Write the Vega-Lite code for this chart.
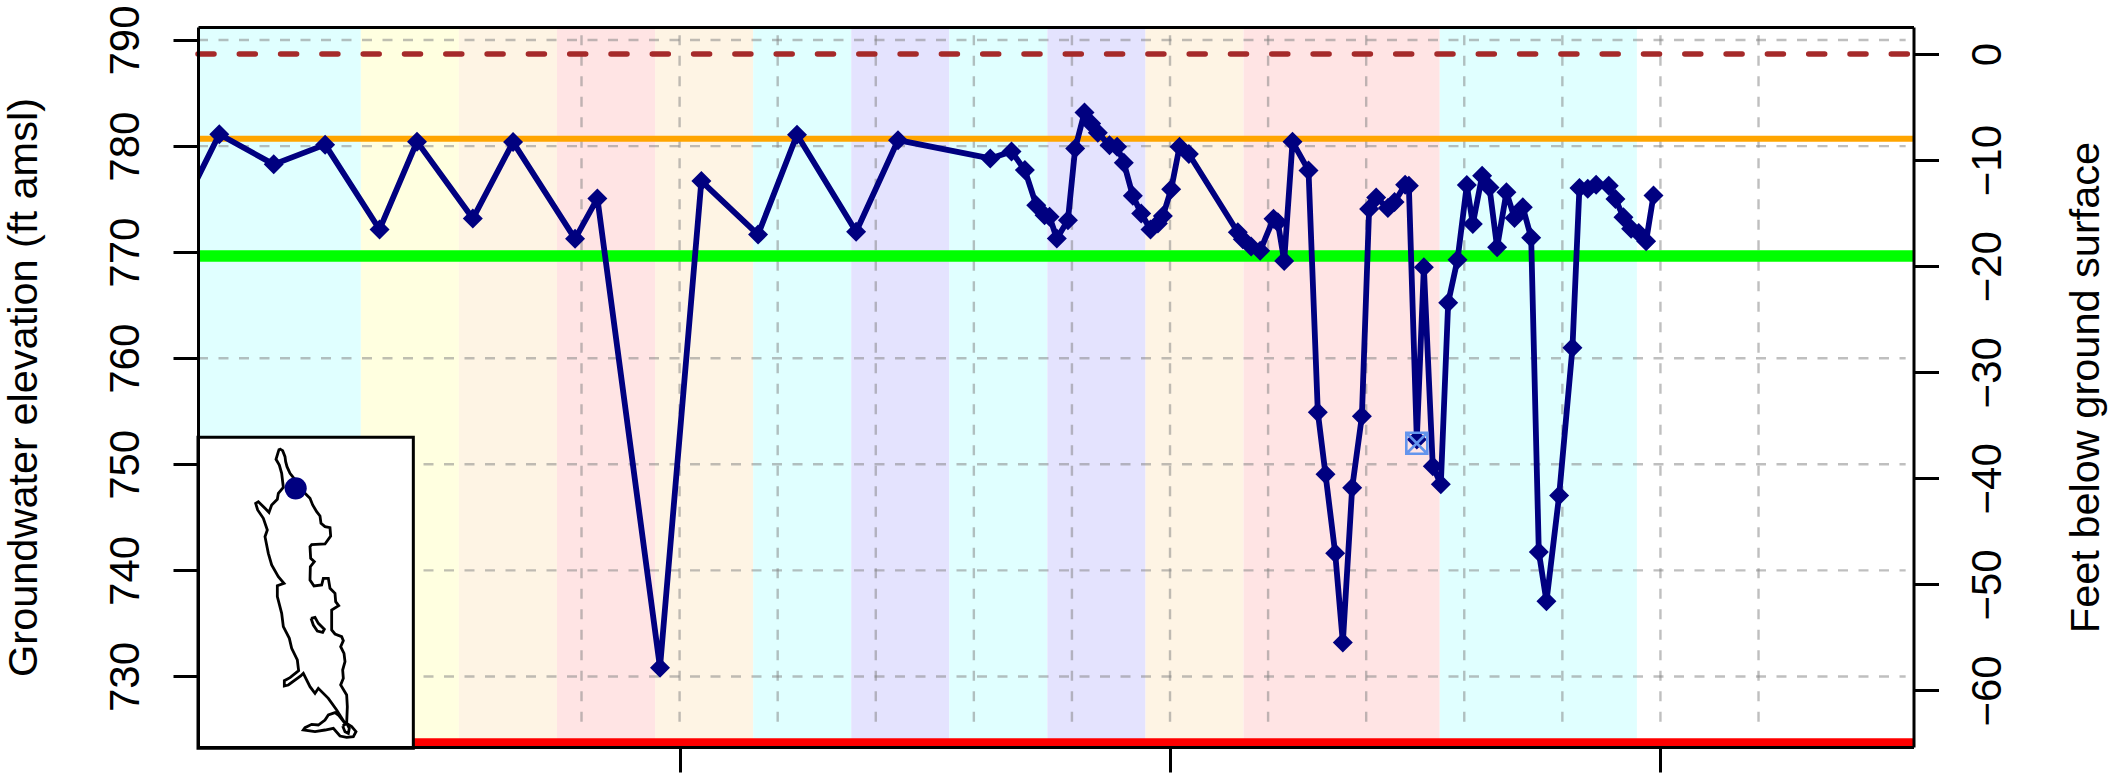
{
"$schema":"https://vega.github.io/schema/vega-lite/v6.json",
"width":1715.5,"height":720,
"autosize":{"type":"none"},
"padding":{"left":198,"top":27,"right":198.5,"bottom":28},
"background":"white",
"config":{"view":{"stroke":null},"font":"Liberation Sans","axis":{"labelFont":"Liberation Sans","titleFont":"Liberation Sans","grid":false}},
"datasets":{
"bands":[
{"start":1964.75,"end":1966.75,"kind":"wet"},
{"start":1966.75,"end":1967.75,"kind":"yellow"},
{"start":1967.75,"end":1968.75,"kind":"lace"},
{"start":1968.75,"end":1969.75,"kind":"pink"},
{"start":1969.75,"end":1970.75,"kind":"lace"},
{"start":1970.75,"end":1971.75,"kind":"wet"},
{"start":1971.75,"end":1972.75,"kind":"lav"},
{"start":1972.75,"end":1973.75,"kind":"wet"},
{"start":1973.75,"end":1974.75,"kind":"lav"},
{"start":1974.75,"end":1975.75,"kind":"lace"},
{"start":1975.75,"end":1977.75,"kind":"pink"},
{"start":1977.75,"end":1979.76,"kind":"wet"}],
"gridx":[{"year":1969},{"year":1970},{"year":1971},{"year":1972},{"year":1973},{"year":1974},{"year":1975},{"year":1976},{"year":1977},{"year":1978},{"year":1979},{"year":1980},{"year":1981}],
"gridy":[{"elev":730},{"elev":740},{"elev":750},{"elev":760},{"elev":770},{"elev":780},{"elev":790}],
"levels":[{"elev":780.7,"name":"orange"},{"elev":769.65,"name":"green"},{"elev":723.7,"name":"red"}],
"series":[
{"year":1965.0,"elev":775.4},{"year":1965.307,"elev":781.12},{"year":1965.862,"elev":778.28},{"year":1966.386,"elev":780.14},{"year":1966.941,"elev":772.14},{"year":1967.323,"elev":780.42},{"year":1967.892,"elev":773.17},{"year":1968.302,"elev":780.38},{"year":1968.934,"elev":771.26},{"year":1969.162,"elev":775.07},{"year":1969.8,"elev":730.83},{"year":1970.222,"elev":776.7},{"year":1970.8,"elev":771.66},{"year":1971.197,"elev":781.07},{"year":1971.8,"elev":771.92},{"year":1972.227,"elev":780.56},
{"year":1973.167,"elev":778.84},{"year":1973.384,"elev":779.5},{"year":1973.52,"elev":777.74},{"year":1973.636,"elev":774.43},{"year":1973.721,"elev":773.49},{"year":1973.772,"elev":773.33},{"year":1973.846,"elev":771.29},{"year":1973.959,"elev":773.02},{"year":1974.033,"elev":779.78},{"year":1974.128,"elev":783.18},{"year":1974.196,"elev":782.14},{"year":1974.264,"elev":781.26},{"year":1974.383,"elev":780.09},{"year":1974.461,"elev":779.94},{"year":1974.529,"elev":778.43},{"year":1974.621,"elev":775.31},{"year":1974.706,"elev":773.65},{"year":1974.801,"elev":772.14},{"year":1974.876,"elev":772.7},{"year":1974.927,"elev":773.4},{"year":1975.012,"elev":775.94},{"year":1975.097,"elev":779.94},{"year":1975.192,"elev":779.25},
{"year":1975.691,"elev":771.88},{"year":1975.742,"elev":771.21},{"year":1975.827,"elev":770.53},{"year":1975.919,"elev":770.13},{"year":1976.055,"elev":773.16},{"year":1976.099,"elev":772.82},{"year":1976.164,"elev":769.18},{"year":1976.249,"elev":780.4},{"year":1976.412,"elev":777.71},{"year":1976.507,"elev":754.9},{"year":1976.585,"elev":749.07},{"year":1976.684,"elev":741.62},{"year":1976.762,"elev":733.2},{"year":1976.857,"elev":747.79},{"year":1976.956,"elev":754.53},{"year":1977.03,"elev":774.07},{"year":1977.102,"elev":775.15},{"year":1977.221,"elev":774.17},{"year":1977.289,"elev":774.74},{"year":1977.397,"elev":776.36},{"year":1977.435,"elev":776.26},{"year":1977.516,"elev":752.34},{"year":1977.588,"elev":768.58},{"year":1977.679,"elev":749.81},{"year":1977.761,"elev":748.13},{"year":1977.836,"elev":765.24},{"year":1977.931,"elev":769.29},{"year":1978.026,"elev":776.33},{"year":1978.087,"elev":772.65},{"year":1978.182,"elev":777.2},{"year":1978.257,"elev":776.09},{"year":1978.335,"elev":770.46},{"year":1978.43,"elev":775.65},{"year":1978.512,"elev":773.23},{"year":1978.597,"elev":774.24},{"year":1978.682,"elev":771.37},{"year":1978.76,"elev":741.73},{"year":1978.838,"elev":737.08},{"year":1978.967,"elev":747.05},{"year":1979.103,"elev":761.0},{"year":1979.174,"elev":776.06},{"year":1979.259,"elev":775.99},{"year":1979.344,"elev":776.36},{"year":1979.473,"elev":776.26},{"year":1979.541,"elev":775.01},{"year":1979.623,"elev":773.3},{"year":1979.701,"elev":772.22},{"year":1979.779,"elev":771.81},{"year":1979.854,"elev":771.04},{"year":1979.929,"elev":775.35}],
"flagged":[{"year":1977.516,"elev":751.99}],
"surface":[{"depth":0}],
"frame":[{"x0":24,"x1":670,"y0":22,"y1":955}],
"site":[{"mx":317,"my":175}],
"outline":[
{"part":"shore","seq":1,"mx":268,"my":56},{"part":"shore","seq":2,"mx":278,"my":62},{"part":"shore","seq":3,"mx":285,"my":80},{"part":"shore","seq":4,"mx":287,"my":95},{"part":"shore","seq":5,"mx":291,"my":110},{"part":"shore","seq":6,"mx":300,"my":130},{"part":"shore","seq":7,"mx":312,"my":145},{"part":"shore","seq":8,"mx":345,"my":190},{"part":"shore","seq":9,"mx":360,"my":205},{"part":"shore","seq":10,"mx":368,"my":225},{"part":"shore","seq":11,"mx":380,"my":245},{"part":"shore","seq":12,"mx":390,"my":258},{"part":"shore","seq":13,"mx":393,"my":280},{"part":"shore","seq":14,"mx":405,"my":290},{"part":"shore","seq":15,"mx":420,"my":293},{"part":"shore","seq":16,"mx":422,"my":318},{"part":"shore","seq":17,"mx":405,"my":342},{"part":"shore","seq":18,"mx":365,"my":344},{"part":"shore","seq":19,"mx":360,"my":350},{"part":"shore","seq":20,"mx":362,"my":385},{"part":"shore","seq":21,"mx":373,"my":395},{"part":"shore","seq":22,"mx":361,"my":410},{"part":"shore","seq":23,"mx":360,"my":450},{"part":"shore","seq":24,"mx":372,"my":468},{"part":"shore","seq":25,"mx":395,"my":465},{"part":"shore","seq":26,"mx":400,"my":445},{"part":"shore","seq":27,"mx":415,"my":445},{"part":"shore","seq":28,"mx":420,"my":475},{"part":"shore","seq":29,"mx":435,"my":490},{"part":"shore","seq":30,"mx":437,"my":515},{"part":"shore","seq":31,"mx":446,"my":527},{"part":"shore","seq":32,"mx":425,"my":540},{"part":"shore","seq":33,"mx":425,"my":600},{"part":"shore","seq":34,"mx":435,"my":612},{"part":"shore","seq":35,"mx":455,"my":620},{"part":"shore","seq":36,"mx":460,"my":632},{"part":"shore","seq":37,"mx":452,"my":650},{"part":"shore","seq":38,"mx":462,"my":670},{"part":"shore","seq":39,"mx":465,"my":695},{"part":"shore","seq":40,"mx":458,"my":720},{"part":"shore","seq":41,"mx":460,"my":745},{"part":"shore","seq":42,"mx":452,"my":765},{"part":"shore","seq":43,"mx":470,"my":795},{"part":"shore","seq":44,"mx":472,"my":830},{"part":"shore","seq":45,"mx":470,"my":880},{"part":"shore","seq":46,"mx":485,"my":890},{"part":"shore","seq":47,"mx":498,"my":905},{"part":"shore","seq":48,"mx":490,"my":920},{"part":"shore","seq":49,"mx":470,"my":922},{"part":"shore","seq":50,"mx":450,"my":918},{"part":"shore","seq":51,"mx":430,"my":895},{"part":"shore","seq":52,"mx":405,"my":900},{"part":"shore","seq":53,"mx":375,"my":905},{"part":"shore","seq":54,"mx":340,"my":900},{"part":"shore","seq":55,"mx":345,"my":893},{"part":"shore","seq":56,"mx":365,"my":883},{"part":"shore","seq":57,"mx":385,"my":885},{"part":"shore","seq":58,"mx":405,"my":870},{"part":"shore","seq":59,"mx":415,"my":855},{"part":"shore","seq":60,"mx":435,"my":848},{"part":"shore","seq":61,"mx":445,"my":855},{"part":"shore","seq":62,"mx":465,"my":880},{"part":"shore","seq":63,"mx":440,"my":840},{"part":"shore","seq":64,"mx":415,"my":805},{"part":"shore","seq":65,"mx":385,"my":775},{"part":"shore","seq":66,"mx":375,"my":790},{"part":"shore","seq":67,"mx":360,"my":770},{"part":"shore","seq":68,"mx":340,"my":730},{"part":"shore","seq":69,"mx":332,"my":738},{"part":"shore","seq":70,"mx":295,"my":765},{"part":"shore","seq":71,"mx":283,"my":768},{"part":"shore","seq":72,"mx":283,"my":752},{"part":"shore","seq":73,"mx":300,"my":743},{"part":"shore","seq":74,"mx":326,"my":722},{"part":"shore","seq":75,"mx":325,"my":715},{"part":"shore","seq":76,"mx":322,"my":690},{"part":"shore","seq":77,"mx":305,"my":655},{"part":"shore","seq":78,"mx":298,"my":625},{"part":"shore","seq":79,"mx":280,"my":590},{"part":"shore","seq":80,"mx":275,"my":550},{"part":"shore","seq":81,"mx":262,"my":500},{"part":"shore","seq":82,"mx":262,"my":467},{"part":"shore","seq":83,"mx":282,"my":460},{"part":"shore","seq":84,"mx":265,"my":440},{"part":"shore","seq":85,"mx":245,"my":405},{"part":"shore","seq":86,"mx":235,"my":370},{"part":"shore","seq":87,"mx":225,"my":320},{"part":"shore","seq":88,"mx":232,"my":300},{"part":"shore","seq":89,"mx":220,"my":265},{"part":"shore","seq":90,"mx":203,"my":240},{"part":"shore","seq":91,"mx":197,"my":220},{"part":"shore","seq":92,"mx":205,"my":215},{"part":"shore","seq":93,"mx":225,"my":235},{"part":"shore","seq":94,"mx":237,"my":247},{"part":"shore","seq":95,"mx":245,"my":225},{"part":"shore","seq":96,"mx":262,"my":208},{"part":"shore","seq":97,"mx":265,"my":190},{"part":"shore","seq":98,"mx":280,"my":172},{"part":"shore","seq":99,"mx":275,"my":130},{"part":"shore","seq":100,"mx":268,"my":105},{"part":"shore","seq":101,"mx":258,"my":88},{"part":"shore","seq":102,"mx":265,"my":65},{"part":"shore","seq":103,"mx":268,"my":56},
{"part":"loop","seq":1,"mx":458,"my":888},{"part":"loop","seq":2,"mx":470,"my":880},{"part":"loop","seq":3,"mx":478,"my":895},{"part":"loop","seq":4,"mx":475,"my":910},{"part":"loop","seq":5,"mx":465,"my":905},{"part":"loop","seq":6,"mx":458,"my":888},
{"part":"island","seq":1,"mx":363,"my":565},{"part":"island","seq":2,"mx":375,"my":562},{"part":"island","seq":3,"mx":385,"my":580},{"part":"island","seq":4,"mx":403,"my":598},{"part":"island","seq":5,"mx":398,"my":607},{"part":"island","seq":6,"mx":382,"my":603},{"part":"island","seq":7,"mx":370,"my":585},{"part":"island","seq":8,"mx":363,"my":565}]
},
"resolve":{"scale":{"x":"independent","y":"independent"}},
"layer":[
{"layer":[
 {"data":{"name":"bands"},"mark":{"type":"rect","clip":true},
  "encoding":{
   "x":{"field":"start","type":"quantitative","scale":{"domain":[1965.09,1982.58],"nice":false,"zero":false},
    "axis":{"values":[1970,1975,1980],"labels":false,"title":null,"tickSize":25,"tickWidth":3,"tickColor":"black","domainColor":"black","domainWidth":3,"zindex":1,"grid":false}},
   "x2":{"field":"end"},
   "fill":{"field":"kind","type":"nominal","legend":null,"scale":{"domain":["wet","yellow","lace","pink","lav"],"range":["#E0FFFF","#FFFFE0","#FEF4E4","#FFE4E4","#E4E3FE"]}}}},
 {"data":{"name":"gridx"},"mark":{"type":"rule","stroke":"#808080","strokeOpacity":0.5,"strokeWidth":2.4,"strokeDash":[10,10.5]},
  "encoding":{"x":{"field":"year","type":"quantitative"},
   "y":{"datum":790.45,"type":"quantitative","scale":{"domain":[723.35,791.23],"nice":false,"zero":false},
    "axis":{"values":[730,740,750,760,770,780,790],"title":"Groundwater elevation (ft amsl)","titleFontSize":41.5,"titleFontWeight":"normal","titleColor":"black","titlePadding":59,"labelFontSize":42,"labelColor":"black","labelAngle":-90,"labelAlign":"center","labelBaseline":"bottom","labelPadding":26,"tickSize":25,"tickWidth":3,"tickColor":"black","domainColor":"black","domainWidth":3,"zindex":1,"grid":false}},
   "y2":{"datum":725}}},
 {"data":{"name":"gridy"},"mark":{"type":"rule","stroke":"#808080","strokeOpacity":0.5,"strokeWidth":2.4,"strokeDash":[10,10.5]},
  "encoding":{"y":{"field":"elev","type":"quantitative"},"x":{"datum":1965.09},"x2":{"datum":1982.5}}},
 {"data":{"name":"levels"},"transform":[{"filter":"datum.name==='orange'"}],"mark":{"type":"rule","stroke":"#FFA500","strokeWidth":6,"clip":true},"encoding":{"y":{"field":"elev","type":"quantitative"}}},
 {"data":{"name":"levels"},"transform":[{"filter":"datum.name==='green'"}],"mark":{"type":"rule","stroke":"#00FF00","strokeWidth":11.5,"clip":true},"encoding":{"y":{"field":"elev","type":"quantitative"}}},
 {"data":{"name":"levels"},"transform":[{"filter":"datum.name==='red'"}],"mark":{"type":"rule","stroke":"#FF0000","strokeWidth":10,"clip":true},"encoding":{"y":{"field":"elev","type":"quantitative"}}},
 {"data":{"name":"series"},"mark":{"type":"line","stroke":"#000080","strokeWidth":5.8,"clip":true,"strokeJoin":"round"},
  "encoding":{"x":{"field":"year","type":"quantitative"},"y":{"field":"elev","type":"quantitative"}}},
 {"data":{"name":"series"},"mark":{"type":"point","shape":"diamond","filled":true,"fill":"#000080","stroke":null,"opacity":1,"size":400,"clip":true},
  "encoding":{"x":{"field":"year","type":"quantitative"},"y":{"field":"elev","type":"quantitative"}}},
 {"data":{"name":"flagged"},"mark":{"type":"point","shape":"M-1,-1H1V1H-1Z M-1,-1L1,1 M-1,1L1,-1","filled":false,"stroke":"#6495ED","strokeWidth":2.6,"opacity":1,"size":441},
  "encoding":{"x":{"field":"year","type":"quantitative"},"y":{"field":"elev","type":"quantitative"}}}
]},
{"data":{"name":"surface"},"mark":{"type":"rule","stroke":"#A52A2A","strokeWidth":5.5,"strokeDash":[16,25.3],"strokeCap":"round"},
 "encoding":{
  "y":{"field":"depth","type":"quantitative","scale":{"domain":[-65.33,2.55],"nice":false,"zero":false},
   "axis":{"orient":"right","values":[-60,-50,-40,-30,-20,-10,0],"title":"Feet below ground surface","titleFontSize":41.5,"titleAngle":-90,"titleBaseline":"bottom","titleFontWeight":"normal","titleColor":"black","titlePadding":99,"labelFontSize":42,"labelColor":"black","labelAngle":-90,"labelAlign":"center","labelBaseline":"bottom","labelPadding":71,"tickSize":25,"tickWidth":3,"tickColor":"black","domainColor":"black","domainWidth":3,"zindex":1,"grid":false}},
  "x":{"datum":1965.09,"scale":{"domain":[1965.09,1982.58],"nice":false,"zero":false},
   "axis":{"orient":"top","values":[],"ticks":false,"labels":false,"title":null,"domainColor":"black","domainWidth":3,"zindex":1,"grid":false}},
  "x2":{"datum":1982.58}}},
{"layer":[
 {"data":{"name":"frame"},"mark":{"type":"rect","fill":"white","stroke":"black","strokeWidth":3},
  "encoding":{
   "x":{"field":"x0","type":"quantitative","axis":null,"scale":{"domain":[24,5170.5],"nice":false,"zero":false}},
   "x2":{"field":"x1"},
   "y":{"field":"y0","type":"quantitative","axis":null,"scale":{"domain":[-1209,951],"reverse":true,"nice":false,"zero":false}},
   "y2":{"field":"y1"}}},
 {"data":{"name":"outline"},"mark":{"type":"line","stroke":"black","strokeWidth":2.8},
  "encoding":{"x":{"field":"mx","type":"quantitative","axis":null},"y":{"field":"my","type":"quantitative","axis":null},"detail":{"field":"part"},"order":{"field":"seq"}}},
 {"data":{"name":"site"},"mark":{"type":"circle","fill":"#000080","opacity":1,"size":490},
  "encoding":{"x":{"field":"mx","type":"quantitative","axis":null},"y":{"field":"my","type":"quantitative","axis":null}}}
]}
]
}
